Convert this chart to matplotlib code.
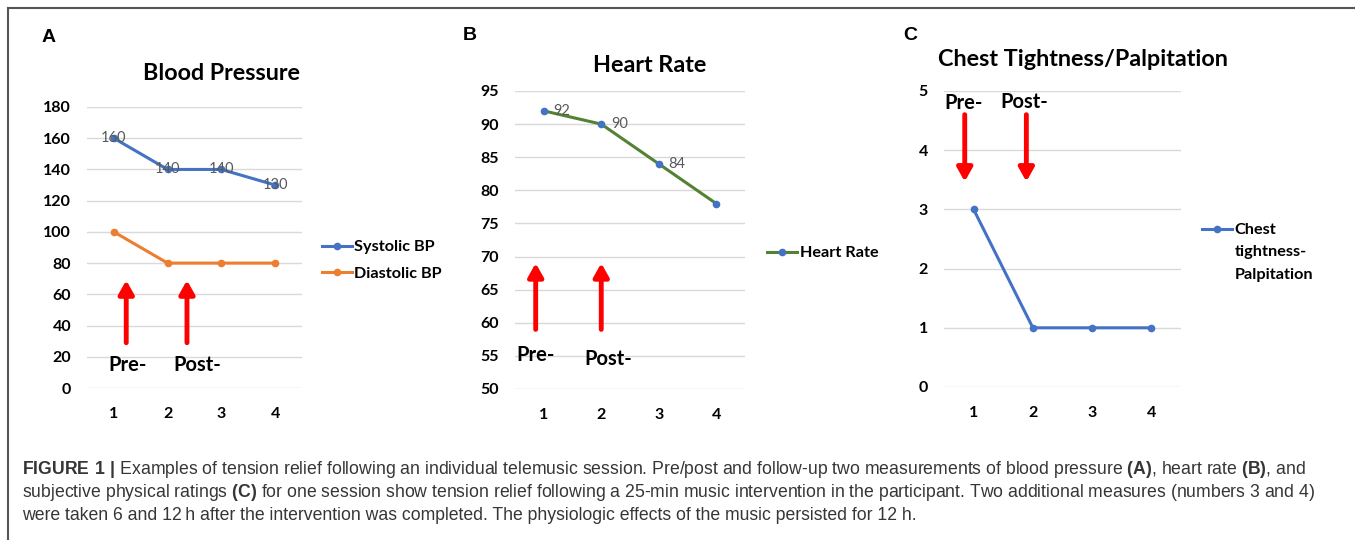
import matplotlib.pyplot as plt
from matplotlib.lines import Line2D

plt.rcParams['font.family'] = ['Lato', 'DejaVu Sans']
plt.rcParams['mathtext.fontset'] = 'custom'
plt.rcParams['mathtext.rm'] = 'Liberation Sans'
plt.rcParams['mathtext.bf'] = 'Liberation Sans:bold'

# data
measures = [1, 2, 3, 4]
systolic = [160, 140, 140, 130]
diastolic = [100, 80, 80, 80]
heart_rate = [92, 90, 84, 78]
chest = [3, 1, 1, 1]
hr_labels = ['92', '90', '84', '']

BLUE = '#4472C4'
ORANGE = '#ED7D31'
GREEN = '#548235'
GRID = '#D9D9D9'
RED = '#FF0000'

W, H = 1355, 540
fig = plt.figure(figsize=(W / 100, H / 100), dpi=100)


def px_axes(x0, y0, x1, y1):
    # pixel box (top-left origin) -> figure fraction axes
    return fig.add_axes([x0 / W, 1 - y1 / H, (x1 - x0) / W, (y1 - y0) / H])


def fy(y):
    return 1 - y / H


def style(ax, ylim, yticks):
    ax.set_xlim(0.5, 4.5)
    ax.set_ylim(*ylim)
    ax.set_yticks(yticks)
    ax.set_xticks(measures)
    ax.grid(axis='y', color=GRID, linewidth=1)
    ax.set_axisbelow(True)
    for s in ax.spines.values():
        s.set_visible(False)
    ax.tick_params(length=0, labelsize=11.5)
    ax.tick_params(axis='y', pad=11.5)
    ax.tick_params(axis='x', pad=13.5)
    for lab in ax.get_xticklabels() + ax.get_yticklabels():
        lab.set_fontweight('bold')


def arrow(ax, x, y0, y1):
    ax.annotate('', xy=(x, y1), xytext=(x, y0),
                arrowprops=dict(arrowstyle='-|>,head_width=0.45,head_length=0.8',
                                color=RED, lw=3.5, shrinkA=0, shrinkB=0))


leg_kw = dict(frameon=False, handlelength=1.85, handletextpad=0.15,
              borderaxespad=0, borderpad=0, bbox_transform=fig.transFigure,
              prop={'weight': 'bold', 'size': 11.7})
label_font = dict(fontsize=14.5, fontweight='bold', ha='center', va='center')
title_font = dict(fontsize=16.8, fontweight='bold', va='center')
letter_font = dict(family='Liberation Sans', fontsize=14, fontweight='bold', ha='left', va='center')

# frame lines
fig.add_artist(Line2D([8 / W, 1], [fy(8), fy(8)], color='#555555', lw=1.5))
fig.add_artist(Line2D([8 / W, 8 / W], [0, fy(8)], color='#555555', lw=1.5))

# panel A
axA = px_axes(87, 107, 302, 388)
style(axA, (0, 180), range(0, 181, 20))
axA.plot(measures, systolic, color=BLUE, lw=2.2, marker='o', ms=4.5, label='Systolic BP')
axA.plot(measures, diastolic, color=ORANGE, lw=2.2, marker='o', ms=4.5, label='Diastolic BP')
for x, v in zip(measures, systolic):
    axA.text(x, v, str(v), ha='center', va='center', fontsize=10.5, color='#595959')
arrow(axA, 1.23, 29, 69)
arrow(axA, 2.36, 29, 69)
axA.text(1.25, 15, 'Pre-', **label_font)
axA.text(2.55, 15, 'Post-', **label_font)
fig.text(221 / W, fy(73), 'Blood Pressure', ha='center', **title_font)
fig.text(42 / W, fy(37), 'A', **letter_font)
axA.legend(loc='center left', bbox_to_anchor=(322 / W, fy(260.5)), labelspacing=0.75, **leg_kw)

# panel B
axB = px_axes(515, 91, 745, 389)
style(axB, (50, 95), range(50, 96, 5))
axB.plot(measures, heart_rate, color=GREEN, lw=2.2, marker='o', ms=4.5,
         markerfacecolor=BLUE, markeredgecolor=BLUE, label='Heart Rate')
for x, v, t in zip(measures, heart_rate, hr_labels):
    axB.annotate(t, (x, v), xytext=(7, 0), textcoords='offset points',
                 ha='left', va='center', fontsize=10.5, color='#595959')
arrow(axB, 0.86, 59, 69)
arrow(axB, 2.0, 59, 69)
axB.text(0.86, 55.1, 'Pre-', **label_font)
axB.text(2.13, 54.5, 'Post-', **label_font)
fig.text(650 / W, fy(66), 'Heart Rate', ha='center', **title_font)
fig.text(463 / W, fy(36), 'B', **letter_font)
axB.legend(loc='center left', bbox_to_anchor=(767 / W, fy(253)), **leg_kw)

# panel C
axC = px_axes(944, 91, 1181, 387)
style(axC, (0, 5), range(0, 6))
axC.plot(measures, chest, color=BLUE, lw=2.2, marker='o', ms=4.5, label='Chest')
arrow(axC, 0.85, 4.6, 3.47)
arrow(axC, 1.89, 4.6, 3.47)
axC.text(0.83, 4.8, 'Pre-', **label_font)
axC.text(1.85, 4.82, 'Post-', **label_font)
fig.text(938 / W, fy(60), 'Chest Tightness/Palpitation', ha='left', **title_font)
fig.text(903 / W, fy(36), 'C', **letter_font)
legC = axC.legend(loc='center left', bbox_to_anchor=(1202 / W, fy(230)), **leg_kw)

# rest of the wrapped legend label, under the first line
fig.canvas.draw()
bb = legC.get_texts()[0].get_window_extent()
for i, part in enumerate(['tightness-', 'Palpitation']):
    fig.text(bb.x0 / W, fy(230 + 22.3 * (i + 1)), part, ha='left', va='center',
             fontsize=11.7, fontweight='bold')

# caption
cap_font = dict(family='Liberation Sans', fontsize=12.7, color='#363636',
                ha='left', va='baseline')
lines = [
    r'$\bf{FIGURE\ 1\ |}$ Examples of tension relief following an individual telemusic session. '
    r'Pre/post and follow-up two measurements of blood pressure $\bf{(A)}$, heart rate $\bf{(B)}$, and',
    r'subjective physical ratings $\bf{(C)}$ for one session show tension relief following a 25-min music '
    r'intervention in the participant. Two additional measures (numbers 3 and 4)',
    'were taken 6 and 12\u2009h after the intervention was completed. The physiologic effects of the music persisted for 12 h.',
]
for i, ln in enumerate(lines):
    fig.text(22 / W, fy(474 + 22.8 * i), ln, **cap_font)

fig.savefig('out.png', dpi=100)
